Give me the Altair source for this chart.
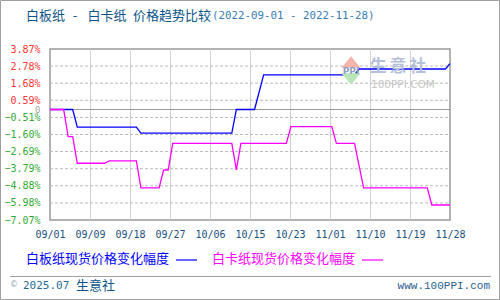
import altair as alt
import pandas as pd

# ---- data (day index from 2022-09-01) ----
blue_idx = [0, 5, 6, 19, 20, 40, 41, 45, 47, 67, 68, 87, 88]
blue_val = [0, 0, -1.13, -1.13, -1.51, -1.51, 0, 0, 2.22, 2.22, 2.59, 2.59, 2.93]

mag_idx = [0, 3, 4, 5, 6, 12, 13, 19, 20, 24, 25, 26, 27, 40, 41, 42, 52, 53, 62, 63, 67, 69, 83, 84, 88]
mag_val = [0, 0, -1.73, -1.73, -3.44, -3.44, -3.29, -3.29, -5.02, -5.02, -3.87, -3.87, -2.17, -2.17,
           -3.87, -2.17, -2.17, -1.09, -1.09, -2.17, -2.17, -5.02, -5.02, -6.11, -6.11]

x_labels = ["09/01", "09/09", "09/18", "09/27", "10/06", "10/15", "10/23", "11/01", "11/10", "11/19", "11/28"]
y_ticks = [3.87, 2.78, 1.68, 0.59, 0, -0.51, -1.60, -2.69, -3.79, -4.88, -5.98, -7.07]

s_blue = "白板纸现货价格变化幅度"
s_mag = "白卡纸现货价格变化幅度"

df = pd.DataFrame(
    {"idx": blue_idx + mag_idx,
     "val": blue_val + mag_val,
     "series": [s_blue] * len(blue_idx) + [s_mag] * len(mag_idx)}
)

N = 88
step = N / 10
x_tick_vals = [round(k * step, 4) for k in range(11)]
lbl_arr = "[" + ",".join("'%s'" % s for s in x_labels) + "]"

W, H = 400, 171
L, T = 50, 49

xscale = alt.Scale(domain=[0, N], nice=False, zero=False)
yscale = alt.Scale(domain=[-7.07, 3.87], nice=False, zero=False)

xaxis = alt.Axis(values=x_tick_vals, labelExpr=lbl_arr + "[round(datum.value/%s)]" % step,
                 title=None, grid=False, labelColor="#1c5080", labelPadding=9,
                 labelBaseline="top", labelFlush=False, labelOverlap=False)
yaxis = alt.Axis(values=y_ticks,
                 labelExpr="abs(datum.value) < 0.001 ? '0' : format(datum.value, '.2f') + '%'",
                 title=None, grid=False,
                 labelColor={"condition": [{"test": "datum.value > 0.001", "value": "#ff3333"},
                                           {"test": "abs(datum.value) < 0.001", "value": "#aaaaaa"}],
                             "value": "#33aa33"},
                 labelFontSize={"condition": {"test": "abs(datum.value) < 0.001", "value": 9}, "value": 10},
                 labelPadding=10, labelFlush=False, labelOverlap=False)

lines_base = alt.Chart(df).encode(
    x=alt.X("idx:Q", scale=xscale, axis=xaxis),
    y=alt.Y("val:Q", scale=yscale, axis=yaxis),
)

# grid lines placed at the tick values through the scales (vertical solid, horizontal dashed)
vgrid = alt.Chart(pd.DataFrame({"gx": x_tick_vals[1:-1]})).mark_rule(
    color="#d0d0d0", strokeWidth=1, xOffset=0.5
).encode(x=alt.X("gx:Q", scale=xscale, axis=xaxis), y=alt.value(0), y2=alt.value(H))
hgrid = alt.Chart(pd.DataFrame({"gy": [v for v in y_ticks if v not in (0, 3.87, -7.07)]})).mark_rule(
    color="#bbbbbb", strokeWidth=1, strokeDash=[3, 2]
).encode(y=alt.Y("gy:Q", scale=yscale, axis=yaxis), x=alt.value(0), x2=alt.value(W))

zero = alt.Chart(pd.DataFrame({"z": [0.0]})).mark_rule(color="#999999", strokeWidth=1.2).encode(
    y=alt.Y("z:Q", scale=yscale, axis=yaxis), x=alt.value(0), x2=alt.value(W))

lines = lines_base.mark_line(strokeWidth=1.3).encode(
    color=alt.Color("series:N", scale=alt.Scale(domain=[s_blue, s_mag], range=["#0000ff", "#ff00ff"]),
                    legend=None),
)


def txt(text, x, y, size=13, color="#000", font="Noto Sans CJK SC", align="left", **kw):
    return alt.Chart(pd.DataFrame({"t": [text]})).mark_text(
        align=align, baseline="middle", fontSize=size, color=color, font=font, clip=False, **kw
    ).encode(text="t:N", x=alt.value(x - L), y=alt.value(y - T))


def hline(x1, x2, y, color, width=1.0):
    return alt.Chart(pd.DataFrame({"a": [0]})).mark_rule(color=color, strokeWidth=width, clip=False).encode(
        x=alt.value(x1 - L), x2=alt.value(x2 - L), y=alt.value(y - T))


def sym(x, y, shape, color, size):
    return alt.Chart(pd.DataFrame({"a": [0]})).mark_point(
        shape=shape, filled=True, color=color, size=size, opacity=1, clip=False
    ).encode(x=alt.value(x - L), y=alt.value(y - T))


deco = [
    # watermark
    sym(351, 62, "M-1,0.6L0,-0.6L1,0.6Z", "#f4b4ac", 360),
    sym(351, 79, "M-1,-0.6L0,0.6L1,-0.6Z", "#b8e6b8", 360),
    txt("PPI", 351, 71, size=9, color="#8fa0c0", font="DejaVu Sans", align="center", fontWeight="bold"),
    txt("生\u2009意\u2009社", 370, 67, size=16.5, color="#b4c0da", fontWeight="bold"),
    txt("100PPI.COM", 371, 85, size=10.5, color="#c4c4c4", font="DejaVu Sans"),
    # title
    txt("白板纸", 26, 16, color="#0b5488"),
    txt("-", 75, 16, color="#0b5488", align="center"),
    txt("白卡纸\u2002价格趋势比较", 87.5, 16, color="#0b5488"),
    txt("(2022-09-01 - 2022-11-28)", 212, 16, size=10.8, color="#3a7db5", font="DejaVu Sans Mono"),
    # legend
    txt(s_blue, 26, 259, color="#0000ff"),
    hline(176, 197, 260, "#0000ff", 1.2),
    txt(s_mag, 212, 259, color="#ff00ff"),
    hline(362, 383, 260, "#ff00ff", 1.2),
    # footer
    hline(10, 491, 276.5, "#a0a0a0", 1.2),
    txt("©", 10, 285, size=8, color="#8aa8c0", font="DejaVu Sans"),
    txt("2025.07", 23, 286, size=11, color="#2a6a9a", font="DejaVu Sans Mono"),
    txt("生意社", 76, 286, color="#0b5488"),
    txt("www.100PPI.com", 490, 286, size=11, color="#2a6090", font="Liberation Mono", align="right"),
]

# outer frame drawn as four rules
frame = [
    hline(0.5, 499.5, 0.5, "#a0a0a0", 1),
    hline(0.5, 499.5, 299.5, "#a0a0a0", 1),
    alt.Chart(pd.DataFrame({"a": [0]})).mark_rule(color="#a0a0a0", strokeWidth=1, clip=False).encode(
        x=alt.value(0.5 - L), y=alt.value(0.5 - T), y2=alt.value(299.5 - T)),
    alt.Chart(pd.DataFrame({"a": [0]})).mark_rule(color="#a0a0a0", strokeWidth=1, clip=False).encode(
        x=alt.value(499.5 - L), y=alt.value(0.5 - T), y2=alt.value(299.5 - T)),
]

chart = alt.layer(vgrid, hgrid, zero, lines, *deco, *frame).properties(
    width=W, height=H,
    autosize=alt.AutoSizeParams(type="none"),
    padding={"left": L, "top": T, "right": 500 - L - W, "bottom": 300 - T - H},
    background="white",
).configure_view(
    stroke="#999999", strokeWidth=1.5
).configure_axis(
    grid=False, domain=False, ticks=False, labelFont="DejaVu Sans Mono",
    labelOverlap=False, labelFlush=False,
)

chart.save("out.html", embed_options={"renderer": "svg", "actions": False})
